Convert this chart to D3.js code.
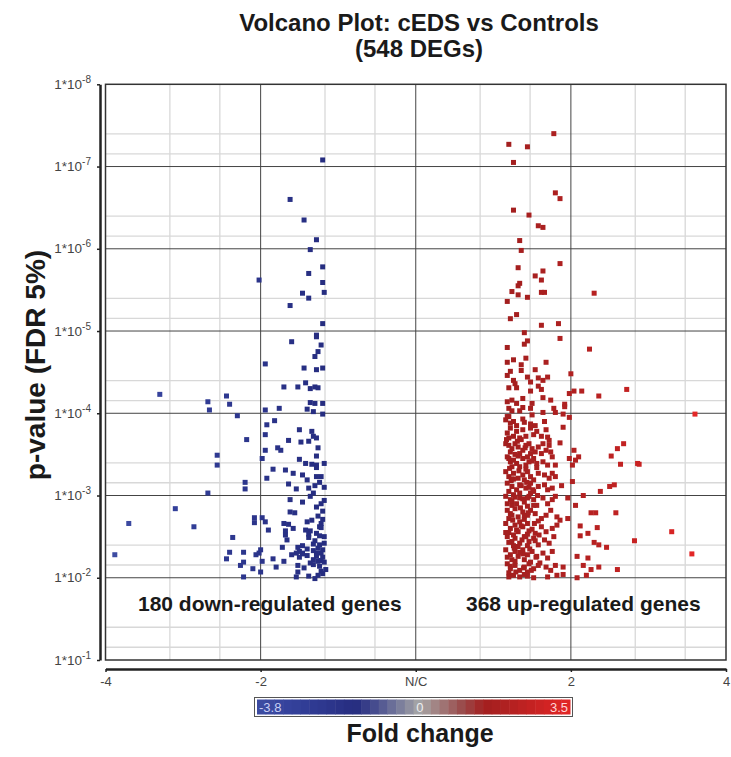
<!DOCTYPE html>
<html>
<head>
<meta charset="utf-8">
<script src="https://cdn.jsdelivr.net/npm/d3@7"></script>
<style>
  body { margin: 0; background: #fff; }
  svg { display: block; font-family: "Liberation Sans", Arial, sans-serif; }
</style>
</head>
<body>
<svg id="chart" width="731" height="757"></svg>
<script>
// genes as [log2 fold change, -log10 p-value]
const downRegulated = [
  [-0.60,7.08],[-0.81,6.60],[-0.72,6.35],[-0.64,6.11],[-0.68,5.99],[-0.60,5.78],[-0.69,5.70],[-1.01,5.62],
  [-0.60,5.59],[-0.73,5.46],[-0.59,5.47],[-0.69,5.40],[-0.81,5.31],[-0.60,5.09],[-0.64,4.95],[-0.64,4.93],
  [-0.80,4.87],[-0.61,4.83],[-0.63,4.75],[-0.65,4.69],[-0.97,4.60],[-0.72,4.55],[-0.64,4.53],[-0.60,4.55],
  [-0.85,4.32],[-0.76,4.32],[-0.71,4.37],[-0.68,4.30],[-0.65,4.32],[-0.63,4.31],
  [-1.65,4.23],[-1.22,4.21],[-1.34,4.14],[-1.20,4.11],[-1.33,4.04],[-1.15,3.97],
  [-0.97,4.04],[-0.88,4.06],[-0.68,4.13],[-0.65,4.12],[-0.60,4.12],[-0.70,4.05],[-0.66,4.02],[-0.60,3.99],
  [-0.96,3.86],[-0.91,3.91],[-0.97,3.74],[-0.75,3.80],[-0.67,3.78],[-0.66,3.72],[-0.64,3.70],[-0.82,3.67],
  [-0.74,3.65],[-0.69,3.66],[-1.09,3.68],[-0.63,3.58],[-0.89,3.58],[-0.87,3.55],[-0.97,3.55],[-0.99,3.45],
  [-0.75,3.44],[-0.64,3.48],[-1.28,3.49],[-1.28,3.37],[-0.71,3.39],[-0.67,3.38],[-0.64,3.37],[-0.59,3.39],
  [-0.64,3.34],[-0.92,3.32],[-0.84,3.31],[-0.79,3.27],[-0.73,3.25],[-0.64,3.23],[-0.61,3.23],[-0.96,3.21],
  [-0.70,3.19],[-0.62,3.16],[-1.10,3.16],[-0.82,3.14],[-0.59,3.10],[-1.10,3.08],[-0.77,3.08],[-0.69,3.09],
  [-0.66,3.03],[-0.68,2.99],[-1.34,3.03],[-0.81,2.95],[-0.73,2.92],[-0.59,2.94],[-1.55,2.84],[-0.64,2.86],
  [-0.81,2.80],[-0.78,2.79],[-0.60,2.81],[-1.04,2.73],[-0.99,2.73],[-0.63,2.75],[-0.60,2.71],[-1.85,2.66],
  [-1.04,2.67],[-0.97,2.68],[-0.85,2.66],[-0.82,2.65],[-0.70,2.68],[-0.61,2.66],[-1.43,2.62],[-0.79,2.60],
  [-0.61,2.61],[-0.95,2.58],[-0.84,2.57],[-0.68,2.57],[-0.84,2.52],[-0.69,2.53],[-0.64,2.54],[-0.59,2.50],
  [-0.62,2.51],[-0.83,2.46],[-0.69,2.49],[-1.18,2.49],[-0.66,2.41],[-0.59,2.42],[-0.86,2.37],[-0.73,2.39],
  [-0.76,2.37],[-0.63,2.36],[-0.60,2.34],[-0.70,2.35],[-0.75,2.32],[-0.73,2.30],[-0.64,2.30],[-0.61,2.30],
  [-0.77,2.30],[-0.80,2.28],[-0.73,2.29],[-1.20,2.31],[-1.11,2.31],[-1.03,2.28],[-1.01,2.30],[-1.00,2.34],
  [-1.94,2.28],[-0.64,2.26],[-0.60,2.25],[-1.22,2.23],[-0.92,2.23],[-0.85,2.20],[-0.99,2.20],[-1.11,2.19],
  [-0.66,2.22],[-0.63,2.20],[-0.61,2.21],[-1.13,2.15],[-0.90,2.13],[-0.76,2.15],[-0.66,2.16],[-0.62,2.14],
  [-1.05,2.11],[-1.00,2.07],[-0.76,2.07],[-0.61,2.08],[-0.58,2.10],[-1.11,2.01],[-0.77,2.01],[-0.69,2.02],
  [-0.65,1.99],[-0.62,2.40],[-0.65,2.45],[-0.70,2.27],[-0.68,2.18],[-0.60,2.05],[-0.63,2.03],[-0.72,2.12],
  [-0.66,2.33],[-0.59,2.19],[-0.75,2.25],[-0.62,2.62],[-0.67,2.70],[-0.61,2.90],[-0.65,3.12],[-0.71,2.58]
];

const upRegulated = [
  [0.89,7.40],[0.60,7.27],[0.72,7.24],[0.63,7.05],[0.90,6.68],[0.93,6.61],[0.63,6.47],[0.73,6.41],
  [0.79,6.28],[0.82,6.26],[0.67,6.10],[0.68,5.98],[0.93,5.82],[0.66,5.77],[0.82,5.73],[0.77,5.67],[0.81,5.62],
  [0.67,5.58],[0.66,5.55],[0.62,5.48],[0.66,5.44],[0.81,5.47],[0.83,5.47],[0.72,5.41],[1.15,5.46],
  [0.59,5.36],[0.65,5.20],[0.61,5.15],[0.81,5.07],[0.92,5.09],[0.70,4.98],[0.72,4.88],[0.70,4.84],
  [0.93,4.91],[0.59,4.80],[1.12,4.78],[0.59,4.62],[0.63,4.65],[0.71,4.67],[0.84,4.62],[0.68,4.59],
  [0.68,4.52],[0.77,4.53],[0.59,4.46],[0.61,4.51],[1.00,4.48],[0.72,4.44],[0.79,4.43],[0.82,4.40],
  [0.85,4.44],[0.63,4.40],[0.64,4.36],[0.74,4.38],[0.60,4.31],[0.65,4.31],[0.74,4.27],[0.79,4.33],
  [0.81,4.29],[0.99,4.24],[1.02,4.27],[1.07,4.27],[1.36,4.29],[1.18,4.21],[0.69,4.18],[0.82,4.19],
  [0.87,4.16],[0.59,4.14],[0.62,4.16],[0.65,4.12],[0.75,4.12],[0.74,4.06],[0.96,4.11],[0.96,4.08],
  [0.60,4.06],[0.62,4.03],[0.67,4.03],[0.69,4.07],[0.82,4.01],[0.89,4.06],[0.90,4.01],[0.95,3.99],
  [0.99,3.95],[0.59,3.96],[0.58,3.92],[0.75,3.98],[1.80,3.99],
  [1.34,3.63],[1.30,3.57],[1.26,3.48],[1.32,3.38],[1.43,3.39],[1.44,3.38],[1.02,3.55],[0.99,3.45],
  [1.05,3.47],[1.03,3.43],[1.01,3.37],[0.93,3.64],[1.25,3.11],[1.28,3.13],[1.19,3.05],[1.01,3.17],
  [0.98,2.97],[1.08,3.00],[1.03,2.88],[1.13,2.79],[1.16,2.79],[1.29,2.79],[0.98,2.72],[0.93,2.70],
  [1.06,2.63],[1.17,2.61],[1.11,2.54],[1.06,2.51],[1.65,2.56],[1.41,2.45],[1.15,2.43],[1.18,2.40],
  [1.23,2.37],[1.78,2.29],[1.04,2.26],[1.11,2.24],[1.08,2.15],[1.18,2.13],[1.13,2.10],[1.30,2.10],
  [1.04,2.00],[1.10,2.03],[0.95,2.04],[0.95,3.83],[0.84,3.80],
  [0.63,3.90],[0.61,3.88],[0.69,3.93],[0.70,3.89],[0.74,3.87],[0.77,3.85],[0.83,3.90],[0.65,3.85],
  [0.59,3.76],[0.61,3.82],[0.63,3.72],[0.67,3.70],[0.69,3.80],[0.71,3.72],[0.74,3.82],[0.76,3.74],
  [0.78,3.78],[0.81,3.72],[0.85,3.71],[0.86,3.67],[0.60,3.70],[0.65,3.78],
  [0.58,3.63],[0.60,3.61],[0.62,3.57],[0.64,3.63],[0.66,3.59],[0.69,3.55],[0.71,3.61],[0.73,3.63],
  [0.75,3.57],[0.77,3.53],[0.79,3.59],[0.82,3.63],[0.84,3.55],[0.86,3.61],[0.61,3.53],[0.67,3.51],
  [0.74,3.51],[0.81,3.51],[0.87,3.53],
  [0.59,3.47],[0.61,3.41],[0.63,3.43],[0.65,3.39],[0.69,3.45],[0.71,3.37],[0.73,3.41],[0.76,3.45],
  [0.78,3.39],[0.82,3.41],[0.85,3.37],[0.88,3.47],[0.90,3.37],[0.62,3.35],[0.72,3.47],[0.67,3.35],
  [0.58,3.29],[0.60,3.23],[0.63,3.27],[0.66,3.21],[0.69,3.25],[0.72,3.29],[0.74,3.23],[0.76,3.19],
  [0.79,3.27],[0.83,3.25],[0.86,3.21],[0.88,3.27],[0.90,3.23],[0.62,3.20],[0.70,3.19],
  [0.59,3.15],[0.62,3.11],[0.65,3.07],[0.67,3.13],[0.71,3.09],[0.74,3.15],[0.76,3.05],[0.79,3.11],
  [0.83,3.13],[0.85,3.07],[0.88,3.09],[0.94,3.12],[0.60,3.05],[0.74,3.03],
  [0.58,2.99],[0.61,2.95],[0.63,3.01],[0.65,2.90],[0.67,2.97],[0.70,2.92],[0.73,2.99],[0.76,2.95],
  [0.78,2.88],[0.82,2.97],[0.85,2.90],[0.88,2.95],[0.90,2.99],[0.62,2.88],[0.72,2.87],
  [0.59,2.82],[0.61,2.78],[0.64,2.84],[0.66,2.74],[0.69,2.80],[0.72,2.76],[0.74,2.82],[0.77,2.78],
  [0.81,2.72],[0.84,2.76],[0.87,2.82],[0.91,2.74],[0.60,2.72],[0.70,2.71],
  [0.58,2.66],[0.61,2.60],[0.64,2.64],[0.66,2.56],[0.69,2.62],[0.72,2.66],[0.75,2.59],[0.77,2.54],
  [0.81,2.62],[0.84,2.56],[0.88,2.60],[0.91,2.64],[0.60,2.55],[0.67,2.68],
  [0.59,2.50],[0.62,2.44],[0.64,2.48],[0.67,2.42],[0.70,2.50],[0.73,2.44],[0.76,2.48],[0.79,2.40],
  [0.83,2.46],[0.86,2.42],[0.89,2.50],[0.63,2.39],[0.72,2.39],
  [0.58,2.34],[0.61,2.28],[0.64,2.32],[0.66,2.26],[0.69,2.34],[0.72,2.28],[0.75,2.32],[0.78,2.26],
  [0.82,2.30],[0.85,2.24],[0.88,2.32],[0.62,2.22],[0.70,2.22],
  [0.59,2.17],[0.61,2.11],[0.64,2.15],[0.67,2.09],[0.70,2.13],[0.73,2.17],[0.76,2.11],[0.79,2.15],
  [0.84,2.13],[0.87,2.09],[0.90,2.15],[0.95,2.13],[0.60,2.06],[0.72,2.07],
  [0.60,2.01],[0.63,2.03],[0.67,2.01],[0.72,2.02],[0.76,2.00],[0.85,2.01],[0.91,2.03],
  [0.585,3.68],[0.60,3.45],[0.605,3.33],[0.615,3.18],[0.62,2.93],[0.625,2.70],[0.63,2.52],[0.635,2.36],
  [0.64,2.20],[0.645,2.07],[0.655,3.66],[0.66,3.48],[0.665,3.30],[0.67,3.03],[0.675,2.85],[0.68,2.63],
  [0.685,2.46],[0.69,2.29],[0.695,2.12],[0.70,2.04],[0.705,3.58],[0.71,3.32],[0.715,3.16],[0.72,2.97],
  [0.725,2.79],[0.73,2.57],[0.735,2.35],[0.74,2.19],[0.745,2.09],[0.75,3.42],[0.755,3.07],[0.76,2.88],
  [0.765,2.66],[0.77,2.45],[0.775,2.25],[0.78,3.34],[0.785,3.00],[0.79,2.69],[0.795,2.52],[0.80,2.18],
  [0.59,2.90],[0.60,2.43],[0.61,2.14],[0.63,3.20],[0.65,2.58],[0.66,2.38],[0.68,3.12],[0.70,2.75],
  [0.71,2.50],[0.73,3.10],[0.58,2.55],[0.59,2.25],[0.62,2.76],[0.64,2.98],[0.67,2.31],[0.69,2.96],
  [0.72,2.53],[0.60,3.96],[0.64,3.50],[0.68,3.68]
];

const xTickValues = [-2, -1, 0, 1, 2];          // log2 fold change
const xTickLabels = ['-4', '-2', 'N/C', '2', '4'];
const xMinorOffsets = [0.415, 0.737];
const yDecades = [8, 7, 6, 5, 4, 3, 2, 1];       // p = 10^-d
const yMinorMultipliers = [4, 7];
const colorDomain = [-3.8, -3, -2, -1.5, -1, 0, 1, 1.5, 2, 3, 3.5];
const colorRange = ['#3d4ca2', '#34419b', '#2b348a', '#262d80', '#4a5090', '#a6a6a6',
                    '#9a4a4a', '#a31f1f', '#b02121', '#d22323', '#e42727'];
const colorBarLabels = [-3.8, 0, 3.5];
const annotations = ['180 down-regulated genes', '368 up-regulated genes'];

const svg = d3.select('#chart');

const x = d3.scaleLinear().domain([-2, 2]).range([105.5, 726]);
const y = d3.scaleLog().domain([1e-8, 1e-1]).range([84.3, 660]);
const color = d3.scaleLinear().domain(colorDomain).range(colorRange).clamp(true);

const fold = u => Math.sign(u) * Math.pow(2, Math.abs(u));
const pval = L => Math.pow(10, -L);

// title
svg.append('text')
  .attr('x', 419).attr('y', 31)
  .attr('text-anchor', 'middle')
  .attr('font-size', 24).attr('font-weight', 'bold').attr('fill', '#1a1a1a')
  .text('Volcano Plot: cEDS vs Controls');
svg.append('text')
  .attr('x', 419).attr('y', 57)
  .attr('text-anchor', 'middle')
  .attr('font-size', 24).attr('font-weight', 'bold').attr('fill', '#1a1a1a')
  .text('(548 DEGs)');

// grid
const grid = svg.append('g');
const [px0, px1] = x.range();
const [py0, py1] = y.range();

xTickValues.slice(0, -1).forEach(k => {
  xMinorOffsets.forEach(o => {
    grid.append('line')
      .attr('x1', x(k + o)).attr('x2', x(k + o))
      .attr('y1', py0).attr('y2', py1)
      .attr('stroke', '#d8d8d8').attr('stroke-width', 1.3);
  });
});
yDecades.slice(0, -1).forEach(d => {
  yMinorMultipliers.forEach(m => {
    const yy = y(m * Math.pow(10, -d));
    grid.append('line')
      .attr('x1', px0).attr('x2', px1)
      .attr('y1', yy).attr('y2', yy)
      .attr('stroke', '#d8d8d8').attr('stroke-width', 1.3);
  });
});
xTickValues.slice(1, -1).forEach(k => {
  grid.append('line')
    .attr('x1', x(k)).attr('x2', x(k))
    .attr('y1', py0).attr('y2', py1)
    .attr('stroke', '#444').attr('stroke-width', 1);
});
yDecades.slice(1, -1).forEach(d => {
  const yy = y(Math.pow(10, -d));
  grid.append('line')
    .attr('x1', px0).attr('x2', px1)
    .attr('y1', yy).attr('y2', yy)
    .attr('stroke', '#444').attr('stroke-width', 1);
});
grid.append('rect')
  .attr('x', px0).attr('y', py0)
  .attr('width', px1 - px0).attr('height', py1 - py0)
  .attr('fill', 'none').attr('stroke', '#333').attr('stroke-width', 1.5);

// annotations
svg.append('text')
  .attr('x', 138).attr('y', 611)
  .attr('font-size', 21).attr('font-weight', 'bold').attr('fill', '#1a1a1a')
  .text(annotations[0]);
svg.append('text')
  .attr('x', 466).attr('y', 611)
  .attr('font-size', 21).attr('font-weight', 'bold').attr('fill', '#1a1a1a')
  .text(annotations[1]);

// points
svg.append('g')
  .selectAll('rect')
  .data(downRegulated.concat(upRegulated))
  .join('rect')
  .attr('x', d => x(d[0]) - 2.5)
  .attr('y', d => y(pval(d[1])) - 2.5)
  .attr('width', 5).attr('height', 5)
  .attr('fill', d => color(fold(d[0])));

// y axis
const yAxis = svg.append('g')
  .attr('transform', 'translate(100,0)')
  .call(d3.axisLeft(y)
    .tickValues(yDecades.map(d => Math.pow(10, -d)))
    .tickSize(3).tickSizeOuter(0)
    .tickFormat(''));
yAxis.select('.domain').attr('stroke', '#222').attr('stroke-width', 2.5);
yAxis.selectAll('.tick line').attr('stroke', '#222').attr('stroke-width', 1.5);

yDecades.forEach(d => {
  const t = svg.append('text')
    .attr('x', 91).attr('y', y(Math.pow(10, -d)) + 4.5)
    .attr('text-anchor', 'end')
    .attr('font-size', 13.5).attr('fill', '#444');
  t.append('tspan').text('1*10');
  t.append('tspan').attr('dy', -6).attr('font-size', 10).text('-' + d);
});

svg.append('text')
  .attr('transform', 'translate(45,365) rotate(-90)')
  .attr('text-anchor', 'middle')
  .attr('font-size', 28).attr('font-weight', 'bold').attr('fill', '#1a1a1a')
  .text('p-value (FDR 5%)');

// x axis
const xAxis = svg.append('g')
  .attr('transform', 'translate(0,669)')
  .call(d3.axisBottom(x)
    .tickValues(xTickValues)
    .tickSize(3).tickSizeOuter(0)
    .tickFormat((d, i) => xTickLabels[i]));
xAxis.select('.domain').attr('stroke', '#222').attr('stroke-width', 2.5);
xAxis.selectAll('.tick line').attr('stroke', '#222').attr('stroke-width', 1.5);
xAxis.selectAll('.tick text')
  .attr('font-size', 13).attr('fill', '#444')
  .attr('font-family', '"Liberation Sans", Arial, sans-serif')
  .attr('dy', '0.85em');

// colour bar
const cb = d3.scaleLinear().domain([colorDomain[0], colorDomain[colorDomain.length - 1]]).range([257, 570]);
const steps = d3.range(36);
const stepW = (cb.range()[1] - cb.range()[0]) / steps.length;
const bar = svg.append('g');
bar.append('rect')
  .attr('x', 254.5).attr('y', 697.5).attr('width', 318).attr('height', 19)
  .attr('fill', '#fff').attr('stroke', '#555').attr('stroke-width', 1);
bar.selectAll('.step')
  .data(steps)
  .join('rect')
  .attr('class', 'step')
  .attr('x', i => cb.range()[0] + i * stepW)
  .attr('y', 699.5)
  .attr('width', stepW + 0.5)
  .attr('height', 15)
  .attr('fill', i => color(cb.invert(cb.range()[0] + (i + 0.5) * stepW)));
bar.selectAll('.cblabel')
  .data(colorBarLabels)
  .join('text')
  .attr('class', 'cblabel')
  .attr('x', (d, i) => i === 0 ? 259 : i === 2 ? 568 : cb(d))
  .attr('y', 712)
  .attr('text-anchor', (d, i) => i === 0 ? 'start' : i === 2 ? 'end' : 'middle')
  .attr('font-size', 13)
  .attr('fill', (d, i) => i === 0 ? '#c9d0f5' : i === 2 ? '#ffd6d6' : '#eeeeee')
  .text(d => d);

svg.append('text')
  .attr('x', 420).attr('y', 742)
  .attr('text-anchor', 'middle')
  .attr('font-size', 25).attr('font-weight', 'bold').attr('fill', '#1a1a1a')
  .text('Fold change');
</script>
</body>
</html>
